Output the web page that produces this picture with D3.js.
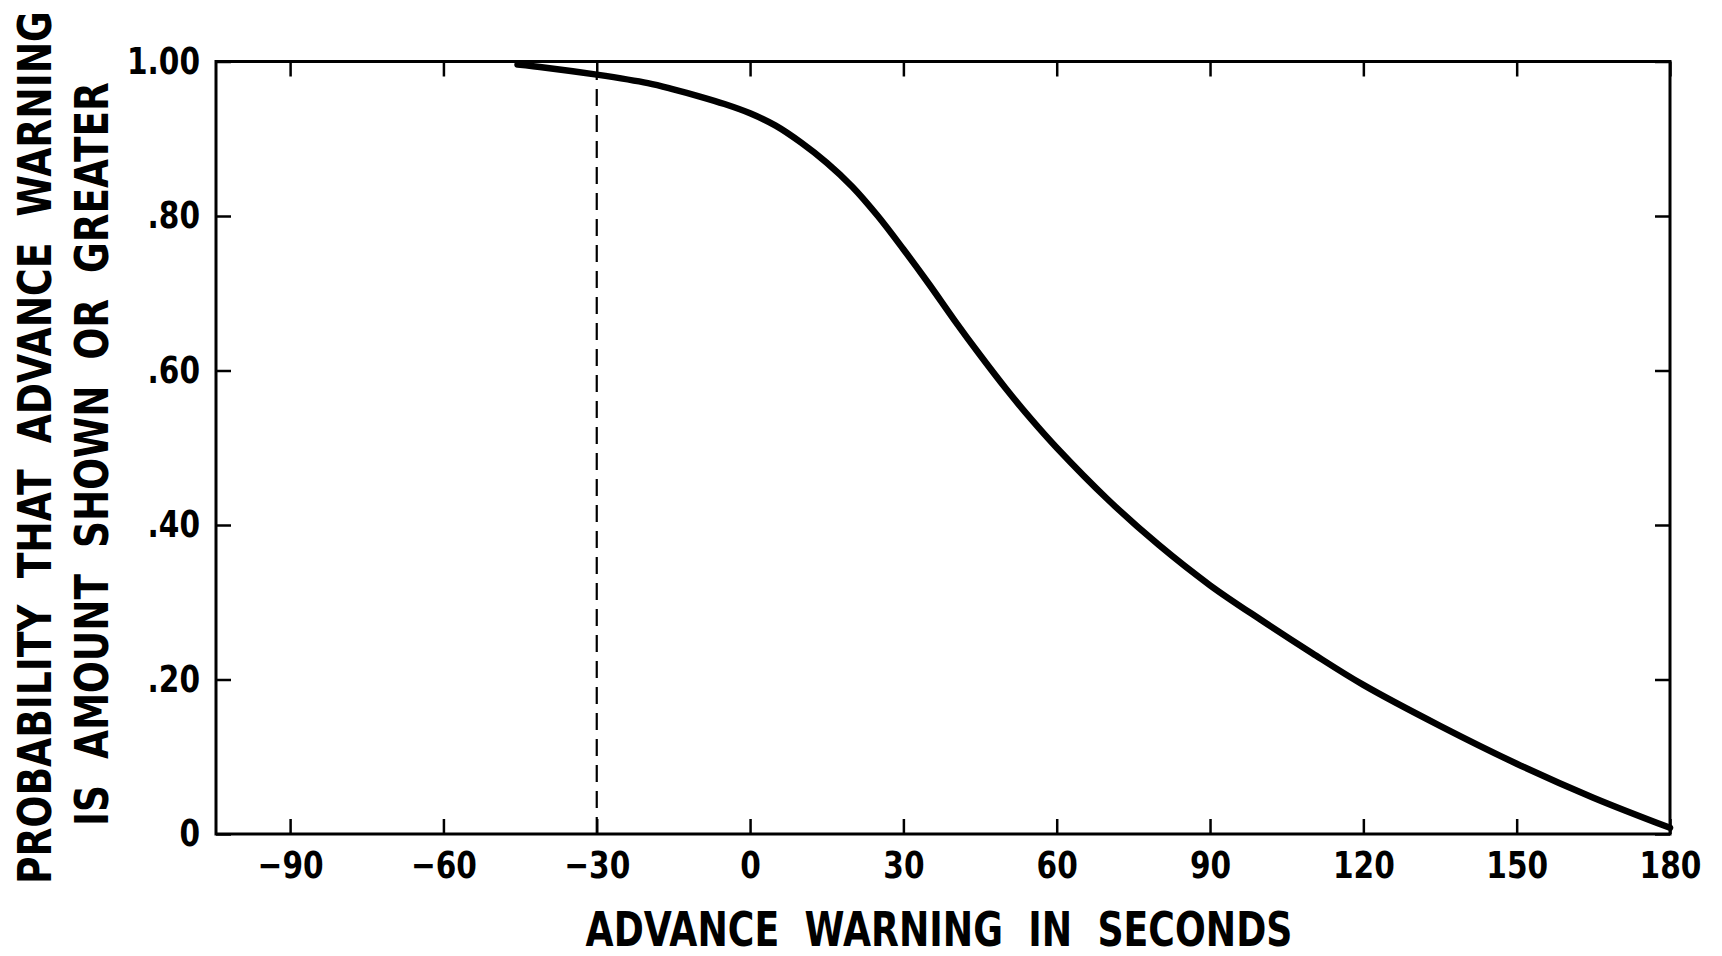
<!DOCTYPE html>
<html>
<head>
<meta charset="utf-8">
<script src="https://cdn.jsdelivr.net/npm/d3@7"></script>
<style>
  html, body { margin: 0; padding: 0; background: #ffffff; }
  svg { display: block; }
  text { font-family: "DejaVu Sans", "Liberation Sans", sans-serif; fill: #000; }
</style>
</head>
<body>
<svg id="chart" width="1722" height="956"></svg>
<script>
// ---- data ----
const warningSeconds = [-45.5, -40, -30, -20, -15, -10, -5, 0, 5, 10, 15, 20, 25, 30, 35, 40, 45, 50, 55, 60, 70, 80, 90, 100, 110, 120, 135, 150, 165, 180];
const probability    = [0.996, 0.992, 0.983, 0.972, 0.964, 0.955, 0.945, 0.933, 0.917, 0.895, 0.869, 0.838, 0.800, 0.757, 0.712, 0.665, 0.620, 0.577, 0.537, 0.500, 0.433, 0.374, 0.322, 0.277, 0.234, 0.193, 0.140, 0.091, 0.047, 0.008];
const dashedAt = -30;
const dashedTop = 0.983;
const xTicks = [-90, -60, -30, 0, 30, 60, 90, 120, 150, 180];
const xTickLabels = ["\u221290", "\u221260", "\u221230", "0", "30", "60", "90", "120", "150", "180"];
const yTicks = [0, 0.2, 0.4, 0.6, 0.8, 1.0];
const yTickLabels = ["0", ".20", ".40", ".60", ".80", "1.00"];
const xTitle = "ADVANCE  WARNING  IN  SECONDS";
const yTitle1 = "PROBABILITY  THAT  ADVANCE  WARNING";
const yTitle2 = "IS  AMOUNT  SHOWN  OR  GREATER";

// ---- layout ----
const mLeft = 216, mRight = 1670, mTop = 61.5, mBottom = 834;
const svg = d3.select("#chart");

const x = d3.scaleLinear().domain([-104.5, 180]).range([mLeft, mRight]);
const y = d3.scaleLinear().domain([0, 1]).range([mBottom, mTop]);

const tickLen = 15;
const xFmt = (d) => xTickLabels[xTicks.indexOf(d)];
const yFmt = (d) => yTickLabels[yTicks.indexOf(d)];

const gb = svg.append("g").attr("transform", `translate(0,${mBottom})`)
  .call(d3.axisBottom(x).tickValues(xTicks).tickFormat(xFmt).tickSizeInner(-tickLen).tickSizeOuter(0).tickPadding(18));
const gt = svg.append("g").attr("transform", `translate(0,${mTop})`)
  .call(d3.axisTop(x).tickValues(xTicks).tickFormat("").tickSizeInner(-tickLen).tickSizeOuter(0));
const gl = svg.append("g").attr("transform", `translate(${mLeft},0)`)
  .call(d3.axisLeft(y).tickValues(yTicks).tickFormat(yFmt).tickSizeInner(-tickLen).tickSizeOuter(0).tickPadding(20));
const gr = svg.append("g").attr("transform", `translate(${mRight},0)`)
  .call(d3.axisRight(y).tickValues(yTicks).tickFormat("").tickSizeInner(-tickLen).tickSizeOuter(0));

[gb, gt, gl, gr].forEach(g => {
  g.select(".domain").remove();
  g.selectAll(".tick line").attr("stroke", "#000").attr("stroke-width", 2.5);
  g.selectAll(".tick text")
    .attr("font-size", 37).attr("font-weight", "bold").attr("fill", "#000")
    .attr("transform", "scale(0.8,1)")
    .style("font-family", '"DejaVu Sans", sans-serif');
});

svg.append("rect")
  .attr("x", mLeft).attr("y", mTop)
  .attr("width", mRight - mLeft).attr("height", mBottom - mTop)
  .attr("fill", "none").attr("stroke", "#000").attr("stroke-width", 3);

svg.append("line")
  .attr("x1", x(dashedAt)).attr("x2", x(dashedAt))
  .attr("y1", y(0)).attr("y2", y(dashedTop))
  .attr("stroke", "#000").attr("stroke-width", 2.2)
  .attr("stroke-dasharray", "17,9");

const pts = warningSeconds.map((s, i) => [s, probability[i]]);
const line = d3.line().x(d => x(d[0])).y(d => y(d[1])).curve(d3.curveCatmullRom.alpha(0.5));
svg.append("path")
  .datum(pts)
  .attr("d", line)
  .attr("fill", "none").attr("stroke", "#000").attr("stroke-width", 6.5)
  .attr("stroke-linecap", "round").attr("stroke-linejoin", "round");

// titles: fit to target length with a horizontal scale of the glyphs
function fittedTitle(label, cx, baseline, rotate, size, targetLen) {
  const g = svg.append("g");
  const t = g.append("text")
    .attr("text-anchor", "middle")
    .attr("font-size", size).attr("font-weight", "bold")
    .style("white-space", "pre")
    .text(label);
  const natural = t.node().getComputedTextLength();
  const sx = targetLen / natural;
  t.attr("transform", `scale(${sx},1)`);
  g.attr("transform", `translate(${cx},${baseline})` + (rotate ? " rotate(-90)" : ""));
  return g;
}

fittedTitle(xTitle, 939, 945.5, false, 48, 707);
fittedTitle(yTitle1, 51, 447.5, true, 47, 873);
fittedTitle(yTitle2, 108, 454, true, 47, 744);
</script>
</body>
</html>
